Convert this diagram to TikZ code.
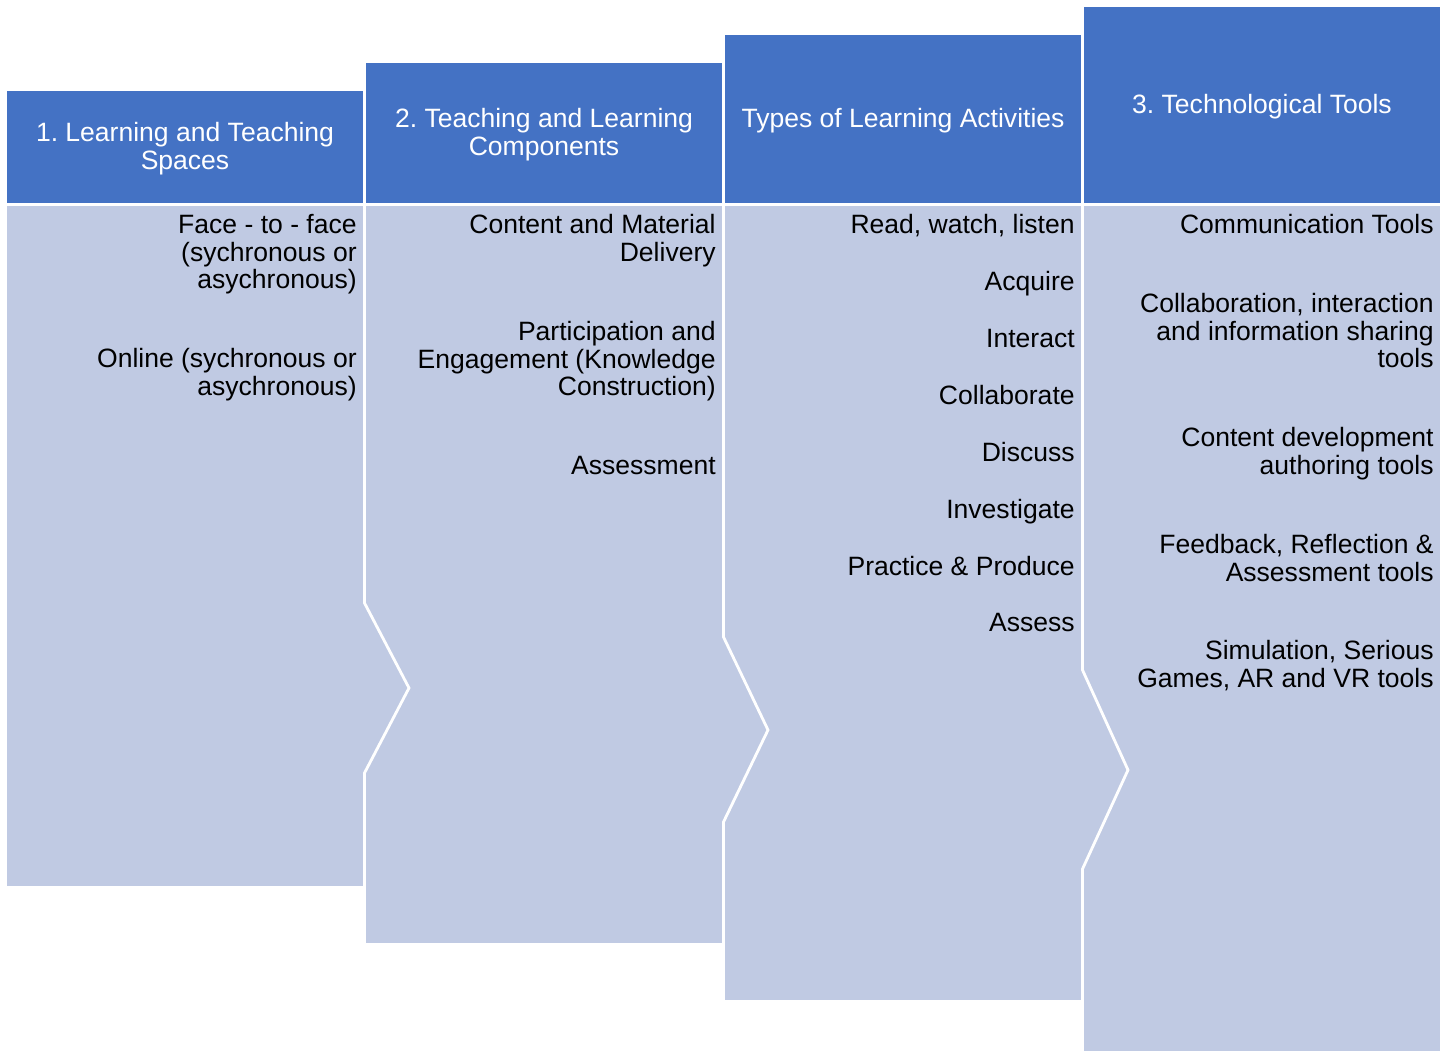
\documentclass[tikz,border=0pt]{standalone}
\usepackage{fontspec}
\setmainfont{Liberation Sans}
\frenchspacing

\definecolor{headblue}{HTML}{4472C4}
\definecolor{bodyblue}{HTML}{C0CAE3}

\tikzset{
	head/.style={fill=headblue, draw=white, line width=1.6pt},
	body/.style={fill=bodyblue, draw=white, line width=1.6pt, line join=miter},
	headtext/.style={text=white, align=center, inner sep=0pt, font=\fontsize{15.1}{15.65}\selectfont},
	item/.style={anchor=north east, align=right, inner sep=0pt, font=\fontsize{15.1}{15.65}\selectfont},
}

\begin{document}
\begin{tikzpicture}[x=0.02cm, y=-0.02cm]
	\useasboundingbox (0, 0) rectangle (1454, 1053); % page size
	% bodies, the last one first so that every chevron lies on top
	\draw [body] (1082.5, 204.5) rectangle (1441.5, 1052.5);
	\draw [body] (723.5, 204.5) -- (1082.5, 204.5) -- (1082.5, 670) -- (1128, 770) -- (1082.5, 869) -- (1082.5, 1001.5) -- (723.5, 1001.5) -- cycle;
	\draw [body] (364.5, 204.5) -- (723.5, 204.5) -- (723.5, 637) -- (768, 730) -- (723.5, 822) -- (723.5, 944.5) -- (364.5, 944.5) -- cycle;
	\draw [body] (5.5, 204.5) -- (364.5, 204.5) -- (364.5, 603) -- (409, 688) -- (364.5, 773) -- (364.5, 887.5) -- (5.5, 887.5) -- cycle;
	% headers
	\draw [head] (5.5, 89.5) rectangle (364.5, 204.5);
	\draw [head] (364.5, 61.5) rectangle (723.5, 204.5);
	\draw [head] (723.5, 33.5) rectangle (1082.5, 204.5);
	\draw [head] (1082.5, 5.5) rectangle (1441.5, 204.5);
	\node [headtext] (spaces) at (185, 148.5) {1. Learning and Teaching\\Spaces};
	\node [headtext] (components) at (544, 134.5) {2. Teaching and Learning\\Components};
	\node [headtext] (activities) at (903, 121) {Types of Learning Activities};
	\node [headtext] (tools) at (1262, 107) {3. Technological Tools};
	% column 1
	\node [item] (facetoface) at (357, 214) {\strut Face - to - face\\(sychronous or\\asychronous)};
	\node [item] (online) at (357, 348) {\strut Online (sychronous or\\asychronous)};
	% column 2
	\node [item] (delivery) at (716, 214) {\strut Content and Material\\Delivery};
	\node [item] (participation) at (716, 321) {\strut Participation and\\Engagement (Knowledge\\Construction)};
	\node [item] (assessment) at (716, 455) {\strut Assessment};
	% column 3
	\node [item] (read) at (1075, 214) {\strut Read, watch, listen};
	\node [item] (acquire) at (1075, 271) {\strut Acquire};
	\node [item] (interact) at (1075, 328) {\strut Interact};
	\node [item] (collaborate) at (1075, 385) {\strut Collaborate};
	\node [item] (discuss) at (1075, 442) {\strut Discuss};
	\node [item] (investigate) at (1075, 499) {\strut Investigate};
	\node [item] (practice) at (1075, 556) {\strut Practice \& Produce};
	\node [item] (assess) at (1075, 612) {\strut Assess};
	% column 4
	\node [item] (communication) at (1434, 214) {\strut Communication Tools};
	\node [item] (collaboration) at (1434, 293) {\strut Collaboration, interaction\\and information sharing\\tools};
	\node [item] (authoring) at (1434, 427) {\strut Content development\\authoring tools};
	\node [item] (feedback) at (1434, 534) {\strut Feedback, Reflection \&\\Assessment tools};
	\node [item] (simulation) at (1434, 640) {\strut Simulation, Serious\\Games, AR and VR tools};
\end{tikzpicture}
\end{document}
